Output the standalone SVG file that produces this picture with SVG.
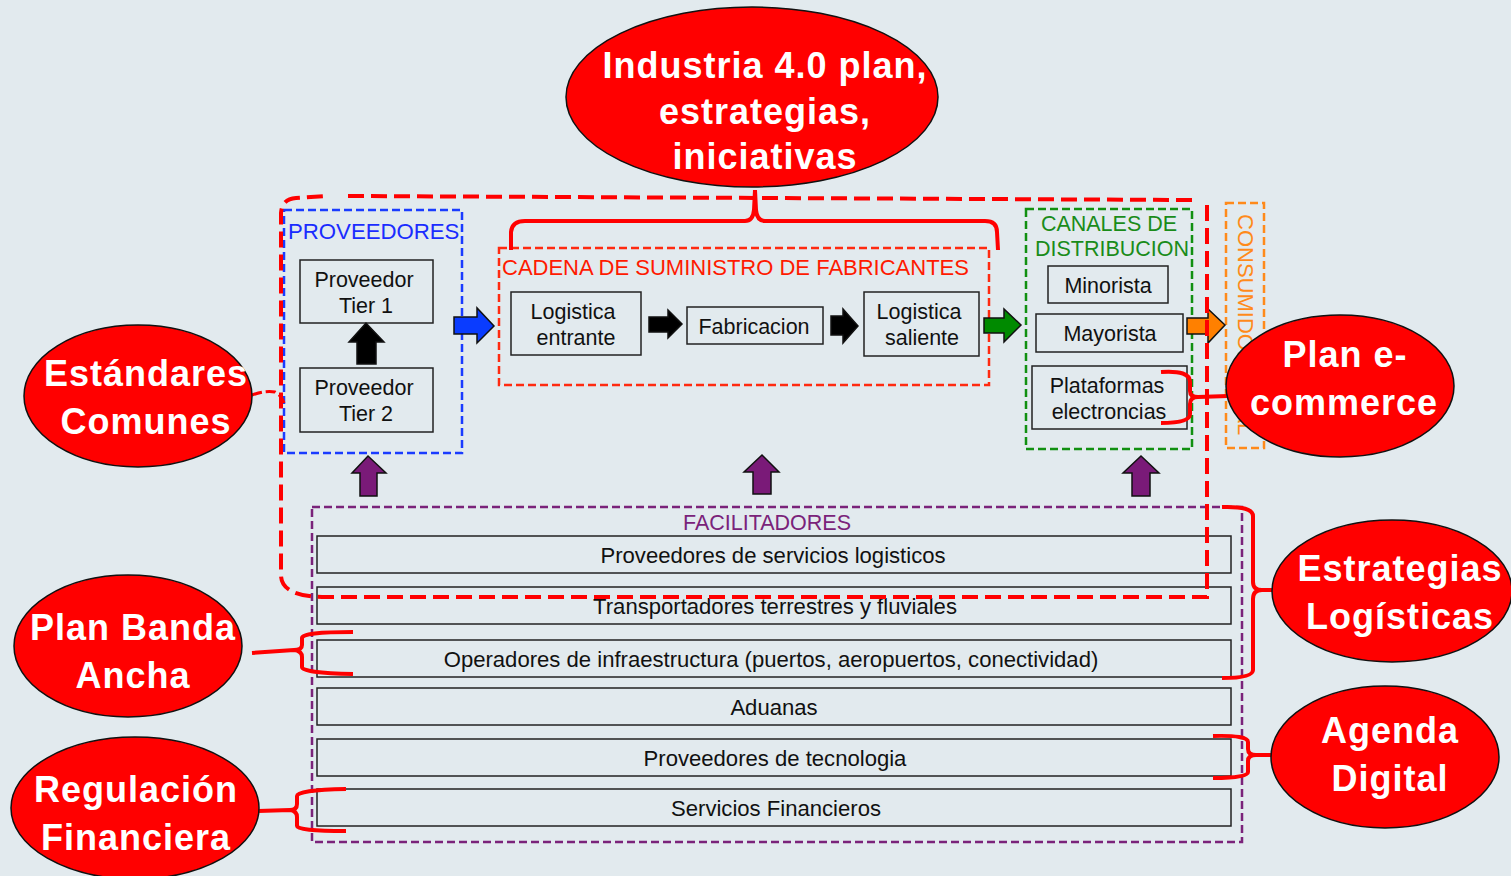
<svg xmlns="http://www.w3.org/2000/svg" width="1511" height="876" viewBox="0 0 1511 876">
<style>
.bg{fill:#e2eaee}
.box{fill:none;stroke:#222;stroke-width:1.5}
.t{font-family:"Liberation Sans",Arial,sans-serif;font-size:21.5px;fill:#111;text-anchor:middle}
.r{font-size:22.1px}
.h{font-family:"Liberation Sans",Arial,sans-serif;font-size:21.5px}
.dash{fill:none;stroke-width:2.5;stroke-dasharray:8 4}
.arr{stroke:#111;stroke-width:1.5;stroke-linejoin:miter}
.ell{fill:#ff0000;stroke:#111;stroke-width:1.5}
.et{font-family:"Liberation Sans",Arial,sans-serif;font-size:36px;font-weight:bold;fill:#fff;text-anchor:middle;letter-spacing:1px}
.brace{fill:none;stroke:#ff0000;stroke-width:4;stroke-linecap:butt;stroke-linejoin:round}
.big{fill:none;stroke:#ff0000;stroke-width:4;stroke-dasharray:16 7}
</style>
<rect class="bg" x="0" y="0" width="1511" height="876"/>

<g id="proveedores">
  <rect class="dash" x="284" y="210" width="178" height="243" stroke="#1a3cff"/>
  <text class="h" x="288" y="239" fill="#1a2cff" style="font-size:22.2px">PROVEEDORES</text>
  <g id="tier1"><rect class="box" x="300" y="260" width="133" height="63"/><text class="t" x="364" y="287">Proveedor</text><text class="t" x="366" y="313">Tier 1</text></g>
  <g id="tier2"><rect class="box" x="300" y="368" width="133" height="64"/><text class="t" x="364" y="395">Proveedor</text><text class="t" x="366" y="421">Tier 2</text></g>
</g>

<g id="cadena">
  <rect class="dash" x="499" y="248" width="490" height="137" stroke="#ff2a10"/>
  <text class="h" x="502" y="275" fill="#ff1a00" style="font-size:22px">CADENA DE SUMINISTRO DE FABRICANTES</text>
  <g id="log-entrante"><rect class="box" x="511" y="292" width="130" height="63"/><text class="t" x="573" y="319">Logistica</text><text class="t" x="576" y="345">entrante</text></g>
  <g id="fabricacion"><rect class="box" x="687" y="307" width="136" height="37"/><text class="t" x="754" y="334">Fabricacion</text></g>
  <g id="log-saliente"><rect class="box" x="864" y="292" width="115" height="64"/><text class="t" x="919" y="319">Logistica</text><text class="t" x="922" y="345">saliente</text></g>
</g>

<g id="canales">
  <rect class="dash" x="1026" y="209" width="166" height="240" stroke="#119011"/>
  <text class="h" x="1109" y="231" fill="#1a8c1a" text-anchor="middle">CANALES DE</text>
  <text class="h" x="1112" y="256" fill="#1a8c1a" text-anchor="middle">DISTRIBUCION</text>
  <g id="minorista"><rect class="box" x="1048" y="266" width="120" height="37"/><text class="t" x="1108" y="293">Minorista</text></g>
  <g id="mayorista"><rect class="box" x="1036" y="314" width="147" height="38"/><text class="t" x="1110" y="341">Mayorista</text></g>
  <g id="plataformas"><rect class="box" x="1032" y="366" width="155" height="63"/><text class="t" x="1107" y="393">Plataformas</text><text class="t" x="1109" y="419">electroncias</text></g>
</g>

<g id="consumidor">
  <rect class="dash" x="1226" y="203" width="38" height="245" stroke="#ff8a1a"/>
  <text class="h" transform="translate(1238,214) rotate(90)" fill="#ff8a1a" style="font-size:22px">CONSUMIDOR FINAL</text>
</g>

<g id="facilitadores">
  <rect class="dash" x="312" y="507" width="930" height="335" stroke="#7a237a"/>
  <text class="h" x="767" y="530" fill="#7a237a" text-anchor="middle">FACILITADORES</text>
  <g id="f1"><rect class="box" x="317" y="536" width="914" height="37"/><text class="t r" x="773" y="563">Proveedores de servicios logisticos</text></g>
  <g id="f2"><rect class="box" x="317" y="587" width="914" height="37"/><text class="t r" x="775" y="614">Transportadores terrestres y fluviales</text></g>
  <g id="f3"><rect class="box" x="317" y="640" width="914" height="37"/><text class="t r" x="771" y="667">Operadores de infraestructura (puertos, aeropuertos, conectividad)</text></g>
  <g id="f4"><rect class="box" x="317" y="688" width="914" height="37"/><text class="t r" x="774" y="715">Aduanas</text></g>
  <g id="f5"><rect class="box" x="317" y="739" width="914" height="37"/><text class="t r" x="775" y="766">Proveedores de tecnologia</text></g>
  <g id="f6"><rect class="box" x="317" y="789" width="914" height="37"/><text class="t r" x="776" y="816">Servicios Financieros</text></g>
</g>

<g id="connectors">
  <polygon class="arr" fill="#000" points="357,364 357,342 349,342 366,323 384,342 376,342 376,364"/>
  <polygon class="arr" fill="#0a3cff" points="454,317 477,317 477,308 494,326 477,343 477,334 454,334"/>
  <polygon class="arr" fill="#000" points="649,317 668,317 668,310 682,324 668,338 668,332 649,332"/>
  <polygon class="arr" fill="#000" points="831,316 843,316 843,309 858,326 843,343 843,335 831,335"/>
  <polygon class="arr" fill="#008a00" points="984,318 1004,318 1004,309 1021,325 1004,342 1004,333 984,333"/>
  <polygon class="arr" fill="#ff8000" points="1187,318 1208,318 1208,309 1225,325 1208,343 1208,334 1187,334"/>
  <polygon class="arr" fill="#7a1a78" points="360,496 360,473 352,473 368,456 386,473 377,473 377,496"/>
  <polygon class="arr" fill="#7a1a78" points="753,494 753,472 744,472 762,455 779,472 771,472 771,494"/>
  <polygon class="arr" fill="#7a1a78" points="1132,496 1132,473 1123,473 1141,456 1159,473 1150,473 1150,496"/>

  <path class="big" d="M348 196 L1193 200 M1207 205 L1207 597 L322 597 Q281 596 281 575 L281 213 Q282 199 296 198 L326 196"/>
  <path fill="none" stroke="#ff0000" stroke-width="3" stroke-dasharray="10 4" d="M252 395 Q266 390 275 392 Q282 396 284 403"/>

  <path class="brace" d="M511 250 L511 232 Q512 221 525 221 L745 221 Q753 221 754 210 L755 190 M755 190 L756 210 Q757 221 765 221 L985 221 Q997 221 997 232 L998 250"/>
  <path class="brace" d="M1161 372 Q1190 370 1190 382 L1190 391 Q1190 397 1198 397 L1228 396 M1198 397 Q1190 397 1190 404 L1190 414 Q1190 423 1161 423"/>
  <path class="brace" d="M1222 507 Q1253 506 1253 516 L1253 582 Q1253 590 1262 590 L1273 590 M1262 590 Q1253 590 1253 599 L1253 670 Q1253 678 1222 678"/>
  <path class="brace" d="M1213 736 Q1248 735 1248 742 L1248 749 Q1248 755 1256 755 L1272 755 M1256 755 Q1248 755 1248 761 L1248 772 Q1248 778 1213 778"/>
  <path class="brace" d="M353 632 Q302 632 302 638 L302 645 Q302 650 294 650 L252 653 M294 650 Q302 651 302 657 L302 667 Q302 673 353 674"/>
  <path class="brace" d="M346 789 Q297 790 297 796 L297 804 Q297 810 290 810 L258 811 M290 810 Q297 811 297 817 L297 826 Q297 831 346 831"/>
</g>

<g id="industria">
  <ellipse class="ell" cx="752" cy="97" rx="186" ry="90"/>
  <text class="et" x="765" y="78">Industria 4.0 plan,</text>
  <text class="et" x="765" y="124">estrategias,</text>
  <text class="et" x="765" y="169">iniciativas</text>
</g>
<g id="estandares">
  <ellipse class="ell" cx="138" cy="396" rx="114" ry="71"/>
  <text class="et" x="146" y="386">Estándares</text>
  <text class="et" x="146" y="434">Comunes</text>
</g>
<g id="ecommerce">
  <ellipse class="ell" cx="1340" cy="386" rx="114" ry="71"/>
  <text class="et" x="1345" y="367">Plan e-</text>
  <text class="et" x="1344" y="415">commerce</text>
</g>
<g id="estrategias">
  <ellipse class="ell" cx="1392" cy="591" rx="120" ry="71"/>
  <text class="et" x="1400" y="581">Estrategias</text>
  <text class="et" x="1400" y="629">Logísticas</text>
</g>
<g id="agenda">
  <ellipse class="ell" cx="1385" cy="757" rx="114" ry="71"/>
  <text class="et" x="1390" y="743">Agenda</text>
  <text class="et" x="1390" y="791">Digital</text>
</g>
<g id="banda">
  <ellipse class="ell" cx="128" cy="646" rx="114" ry="71"/>
  <text class="et" x="133" y="640">Plan Banda</text>
  <text class="et" x="133" y="688">Ancha</text>
</g>
<g id="regulacion">
  <ellipse class="ell" cx="135" cy="808" rx="124" ry="71"/>
  <text class="et" x="136" y="802">Regulación</text>
  <text class="et" x="136" y="850">Financiera</text>
</g>
</svg>
